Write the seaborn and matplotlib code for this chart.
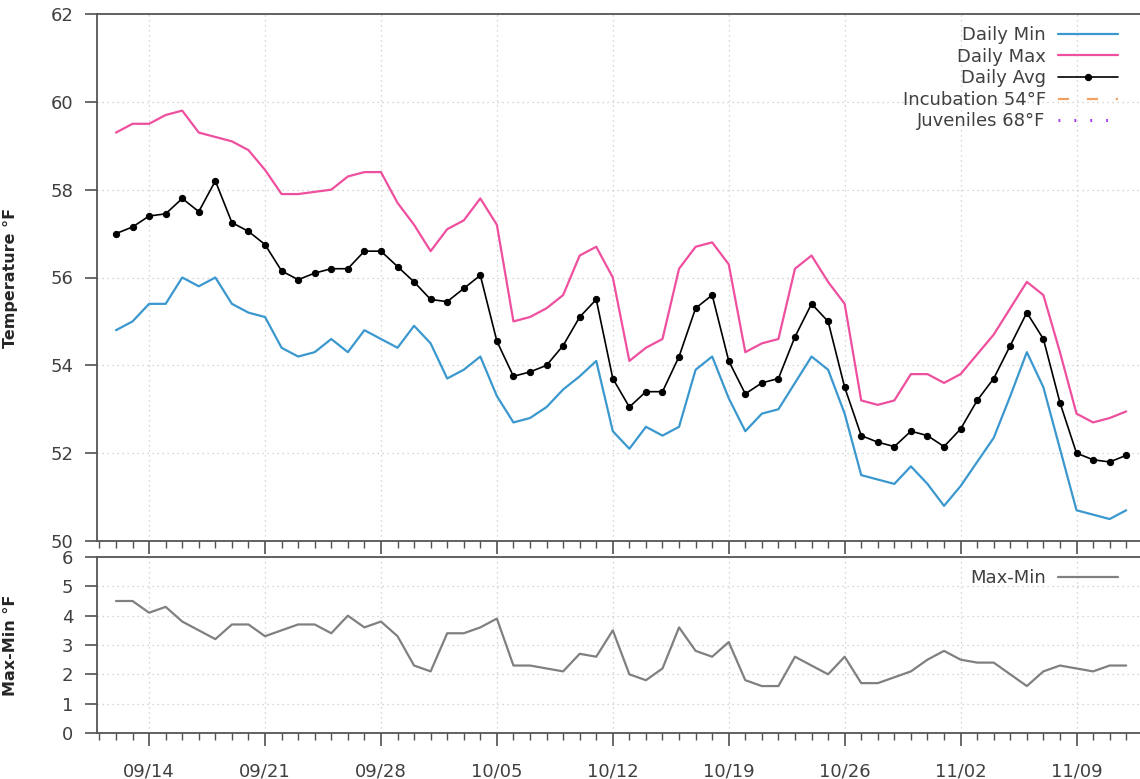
import matplotlib
matplotlib.use("Agg")
import matplotlib.pyplot as plt
import matplotlib.dates as mdates
import pandas as pd
import seaborn as sns

# daily water temperature, 09/12 .. 11/12
dates = pd.date_range("2024-09-12", "2024-11-12", freq="D")

daily_min = [54.8, 55.0, 55.4, 55.4, 56.0, 55.8, 56.0, 55.4, 55.2, 55.1,
             54.4, 54.2, 54.3, 54.6, 54.3, 54.8, 54.6, 54.4, 54.9, 54.5,
             53.7, 53.9, 54.2, 53.3, 52.7, 52.8, 53.05, 53.45, 53.75, 54.1,
             52.5, 52.1, 52.6, 52.4, 52.6, 53.9, 54.2, 53.25, 52.5, 52.9,
             53.0, 53.6, 54.2, 53.9, 52.9, 51.5, 51.4, 51.3, 51.7, 51.3,
             50.8, 51.25, 51.8, 52.35, 53.3, 54.3, 53.5, 52.1, 50.7, 50.6,
             50.5, 50.7]
daily_max = [59.3, 59.5, 59.5, 59.7, 59.8, 59.3, 59.2, 59.1, 58.9, 58.45,
             57.9, 57.9, 57.95, 58.0, 58.3, 58.4, 58.4, 57.7, 57.2, 56.6,
             57.1, 57.3, 57.8, 57.2, 55.0, 55.1, 55.3, 55.6, 56.5, 56.7,
             56.0, 54.1, 54.4, 54.6, 56.2, 56.7, 56.8, 56.3, 54.3, 54.5,
             54.6, 56.2, 56.5, 55.9, 55.4, 53.2, 53.1, 53.2, 53.8, 53.8,
             53.6, 53.8, 54.25, 54.7, 55.3, 55.9, 55.6, 54.3, 52.9, 52.7,
             52.8, 52.95]
daily_avg = [57.0, 57.15, 57.4, 57.45, 57.8, 57.5, 58.2, 57.25, 57.05, 56.75,
             56.15, 55.95, 56.1, 56.2, 56.2, 56.6, 56.6, 56.25, 55.9, 55.5,
             55.45, 55.75, 56.05, 54.55, 53.75, 53.85, 54.0, 54.45, 55.1, 55.5,
             53.7, 53.05, 53.4, 53.4, 54.2, 55.3, 55.6, 54.1, 53.35, 53.6,
             53.7, 54.65, 55.4, 55.0, 53.5, 52.4, 52.25, 52.15, 52.5, 52.4,
             52.15, 52.55, 53.2, 53.7, 54.45, 55.2, 54.6, 53.15, 52.0, 51.85,
             51.8, 51.95]
max_min = [4.5, 4.5, 4.1, 4.3, 3.8, 3.5, 3.2, 3.7, 3.7, 3.3,
           3.5, 3.7, 3.7, 3.4, 4.0, 3.6, 3.8, 3.3, 2.3, 2.1,
           3.4, 3.4, 3.6, 3.9, 2.3, 2.3, 2.2, 2.1, 2.7, 2.6,
           3.5, 2.0, 1.8, 2.2, 3.6, 2.8, 2.6, 3.1, 1.8, 1.6,
           1.6, 2.6, 2.3, 2.0, 2.6, 1.7, 1.7, 1.9, 2.1, 2.5,
           2.8, 2.5, 2.4, 2.4, 2.0, 1.6, 2.1, 2.3, 2.2, 2.1,
           2.3, 2.3]

df = pd.DataFrame({"date": dates, "min": daily_min, "max": daily_max,
                   "avg": daily_avg, "range": max_min})

sns.set_style("white")
plt.rcParams["font.family"] = ["DejaVu Sans"]

W, H = 1140, 779
fig = plt.figure(figsize=(W / 100, H / 100), dpi=100)
ax1 = fig.add_axes([97 / W, 1 - 541 / H, 1043 / W, 527 / H])
ax2 = fig.add_axes([97 / W, 1 - 733 / H, 1043 / W, 176 / H])

sns.lineplot(data=df, x="date", y="min", ax=ax1, color="#3a98cf",
             linewidth=1.6, label="Daily Min")
sns.lineplot(data=df, x="date", y="max", ax=ax1, color="#ee4f9f",
             linewidth=1.6, label="Daily Max")
sns.lineplot(data=df, x="date", y="avg", ax=ax1, color="black",
             linewidth=1.2, marker="o", markersize=4.5,
             markeredgecolor="black", label="Daily Avg")
# threshold lines only appear in the legend
ax1.plot([], [], color="#f0a060", linewidth=1.6, linestyle=(0, (5, 8)),
         label="Incubation 54°F")
ax1.plot([], [], color="#a83cf0", linewidth=2.2, linestyle=(0, (0.6, 4.6)),
         label="Juveniles 68°F")

sns.lineplot(data=df, x="date", y="range", ax=ax2, color="#808080",
             linewidth=1.6, label="Max-Min")

x_left = dates[0] - pd.Timedelta(hours=27.5)
x_right = dates[-1] + pd.Timedelta(hours=20)

for ax in (ax1, ax2):
    ax.set_xlim(x_left, x_right)
    ax.xaxis.set_major_locator(mdates.WeekdayLocator(byweekday=mdates.SA))
    ax.xaxis.set_minor_locator(mdates.DayLocator())
    ax.xaxis.set_major_formatter(mdates.DateFormatter("%m/%d"))
    ax.grid(True, which="major", color="#c8c8c8", linestyle=(0, (1, 3)),
            linewidth=0.9)
    ax.tick_params(bottom=True, left=True, top=False, right=False,
                   which="both")
    ax.tick_params(axis="both", which="major", direction="out", length=9,
                   width=1.2, color="#505050", labelcolor="#404040",
                   labelsize=13)
    ax.tick_params(axis="x", which="minor", direction="out", length=5,
                   width=1.0, color="#505050")
    ax.tick_params(axis="y", which="minor", left=False)
    ax.tick_params(axis="x", which="major", pad=12)
    ax.tick_params(axis="y", which="major", pad=8)
    for side in ("left", "bottom", "top"):
        ax.spines[side].set_color("#555555")
        ax.spines[side].set_linewidth(1.3)
    ax.spines["right"].set_visible(False)
    ax.set_xlabel("")

ax1.set_ylim(50, 62)
ax1.set_yticks(range(50, 63, 2))
ax1.tick_params(labelbottom=False)
ax1.set_ylabel("Temperature °F", fontsize=11.5, fontweight="bold")
ax1.yaxis.set_label_coords(-0.0757, 0.5)

ax2.set_ylim(0, 6)
ax2.set_yticks(range(0, 7))
ax2.set_ylabel("Max-Min °F", fontsize=11.5, fontweight="bold")
ax2.yaxis.set_label_coords(-0.0757, 0.5)

leg_kw = dict(loc="upper right", frameon=False, markerfirst=False,
              fontsize=13, handlelength=3.3, handletextpad=0.7,
              labelspacing=0.2, borderpad=0, borderaxespad=0,
              labelcolor="#404040")
ax1.legend(bbox_to_anchor=((1118 - 97) / 1043, 1 - (26 - 14) / 527), **leg_kw)
ax2.legend(bbox_to_anchor=((1118 - 97) / 1043, 1 - (569 - 557) / 176), **leg_kw)

fig.savefig("out.png", dpi=100)
